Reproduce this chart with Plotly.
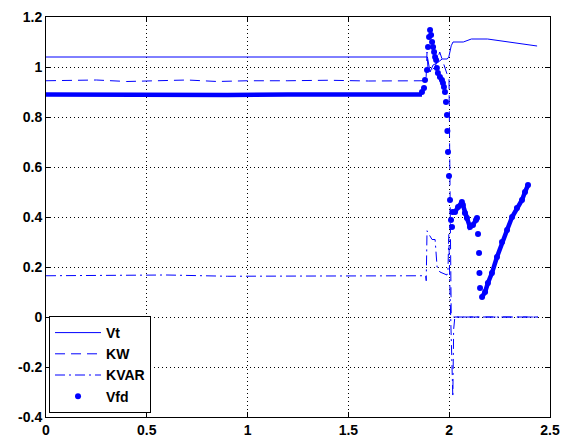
import plotly.graph_objects as go

# ---------------- data ----------------
vt_t = [0.0, 0.5, 1.0, 1.5, 1.88, 1.892, 1.905, 1.92, 1.94, 1.965, 1.99, 1.998, 2.01, 2.019, 2.07, 2.11, 2.19, 2.30, 2.436]
vt_v = [1.04, 1.04, 1.04, 1.04, 1.04, 1.04, 0.98, 1.008, 1.016, 1.032, 1.032, 1.04, 1.085, 1.10, 1.10, 1.112, 1.112, 1.10, 1.084]

kw_t = [0.0, 0.1, 0.25, 0.4, 0.55, 0.7, 0.85, 1.0, 1.2, 1.4, 1.6, 1.8, 1.885, 1.89, 1.895, 1.91, 1.93, 1.953, 1.965, 1.98, 1.99, 1.999, 2.005, 2.01, 2.44]
kw_v = [0.945, 0.945, 0.948, 0.942, 0.945, 0.948, 0.942, 0.945, 0.945, 0.947, 0.944, 0.945, 0.945, 1.06, 0.99, 0.985, 1.0, 1.06, 1.03, 1.0, 0.97, 0.96, 0.5, 0.0, 0.0]

kvar_t = [0.0, 0.3, 0.6, 0.9, 1.2, 1.5, 1.8, 1.883, 1.886, 1.89, 1.9, 1.915, 1.93, 1.94, 1.954, 1.969, 1.989, 1.994, 1.998, 2.004, 2.012, 2.018, 2.022, 2.028, 2.44]
kvar_v = [0.165, 0.165, 0.168, 0.163, 0.163, 0.165, 0.165, 0.165, 0.145, 0.345, 0.33, 0.31, 0.31, 0.2, 0.18, 0.176, 0.168, 0.19, 0.33, 0.1, -0.1, -0.32, -0.05, 0.0, 0.0]

# Vfd: flat part (dense samples) and transient samples
vfd_flat_t = [0.0, 0.3, 0.6, 0.9, 1.2, 1.5, 1.865]
vfd_flat_v = [0.89, 0.888, 0.89, 0.888, 0.89, 0.89, 0.89]

vfd_t = [1.865, 1.875, 1.880, 1.890, 1.895, 1.900, 1.905, 1.910, 1.915, 1.920, 1.925, 1.930, 1.935, 1.939, 1.944,
         1.954, 1.964, 1.969, 1.974, 1.979, 1.984, 1.989, 1.991, 1.994, 1.999, 2.004, 2.009, 2.014, 2.016,
         2.029, 2.044, 2.063, 2.068, 2.078, 2.088, 2.103, 2.118, 2.133, 2.138, 2.143, 2.148, 2.150, 2.153,
         2.163, 2.178, 2.192, 2.212, 2.237, 2.262, 2.287, 2.312, 2.336, 2.361, 2.376, 2.391]
vfd_v = [0.90, 0.916, 0.948, 0.988, 1.08, 1.12, 1.148, 1.128, 1.10, 1.08, 1.06, 1.04, 1.028, 0.996, 0.976,
         0.96, 0.948, 0.936, 0.92, 0.90, 0.86, 0.808, 0.744, 0.66, 0.564, 0.468, 0.388, 0.36, 0.42,
         0.42, 0.44, 0.46, 0.448, 0.416, 0.396, 0.36, 0.368, 0.388, 0.396, 0.332, 0.256, 0.176, 0.116,
         0.08, 0.10, 0.136, 0.176, 0.24, 0.30, 0.348, 0.40, 0.436, 0.468, 0.50, 0.528]
# sample ranges that are densely connected in the original
vfd_dense_idx = [(28, 39), (43, 55)]

x_ticks = [0, 0.5, 1, 1.5, 2, 2.5]
x_tick_labels = ["0", "0.5", "1", "1.5", "2", "2.5"]
y_ticks = [-0.4, -0.2, 0, 0.2, 0.4, 0.6, 0.8, 1, 1.2]
y_tick_labels = ["-0.4", "-0.2", "0", "0.2", "0.4", "0.6", "0.8", "1", "1.2"]

BLUE = "#0000ff"
FONT = "Liberation Sans, Arial, sans-serif"

fig = go.Figure()
fig.add_trace(go.Scatter(x=vt_t, y=vt_v, mode="lines", name="Vt",
                         line=dict(color=BLUE, width=1)))
fig.add_trace(go.Scatter(x=kw_t, y=kw_v, mode="lines", name="KW",
                         line=dict(color=BLUE, width=1, dash="10px,6px")))
fig.add_trace(go.Scatter(x=kvar_t, y=kvar_v, mode="lines", name="KVAR",
                         line=dict(color=BLUE, width=1, dash="10px,4px,2px,4px")))

# dense Vfd segments drawn as thick strokes
seg_x, seg_y = list(vfd_flat_t), list(vfd_flat_v)
for a, b in vfd_dense_idx:
    seg_x += [None] + vfd_t[a:b]
    seg_y += [None] + vfd_v[a:b]
fig.add_trace(go.Scatter(x=seg_x, y=seg_y, mode="lines", showlegend=False,
                         line=dict(color=BLUE, width=4.5), hoverinfo="skip"))
fig.add_trace(go.Scatter(x=vfd_t, y=vfd_v, mode="markers", name="Vfd",
                         marker=dict(color=BLUE, size=6, line=dict(width=0))))

axis_common = dict(
    showline=True, linecolor="black", linewidth=1, mirror="ticks",
    ticks="inside", ticklen=5, tickcolor="black",
    showgrid=True, gridcolor="black", gridwidth=1, griddash="1px,3px",
    zeroline=False, automargin=False,
    tickfont=dict(family=FONT, size=14, color="black", weight="bold"),
)

fig.update_xaxes(range=[0, 2.5], tickvals=x_ticks, ticktext=x_tick_labels, **axis_common)
fig.update_yaxes(range=[-0.4, 1.2], tickvals=y_ticks, ticktext=y_tick_labels, **axis_common)

fig.update_layout(
    width=563, height=437,
    margin=dict(l=46, r=13, t=17, b=20),
    paper_bgcolor="white", plot_bgcolor="white",
    legend=dict(x=0.006, y=0.01, xanchor="left", yanchor="bottom",
                bgcolor="white", bordercolor="black", borderwidth=1,
                itemwidth=46, tracegroupgap=0,
                font=dict(family=FONT, size=14, color="black", weight="bold")),
)

# remove the default page margin so the 563x437 figure fills the window exactly
fig.write_html("out.html",
               config={"displayModeBar": False},
               post_script="document.body.style.margin='0';document.body.style.overflow='hidden';")
